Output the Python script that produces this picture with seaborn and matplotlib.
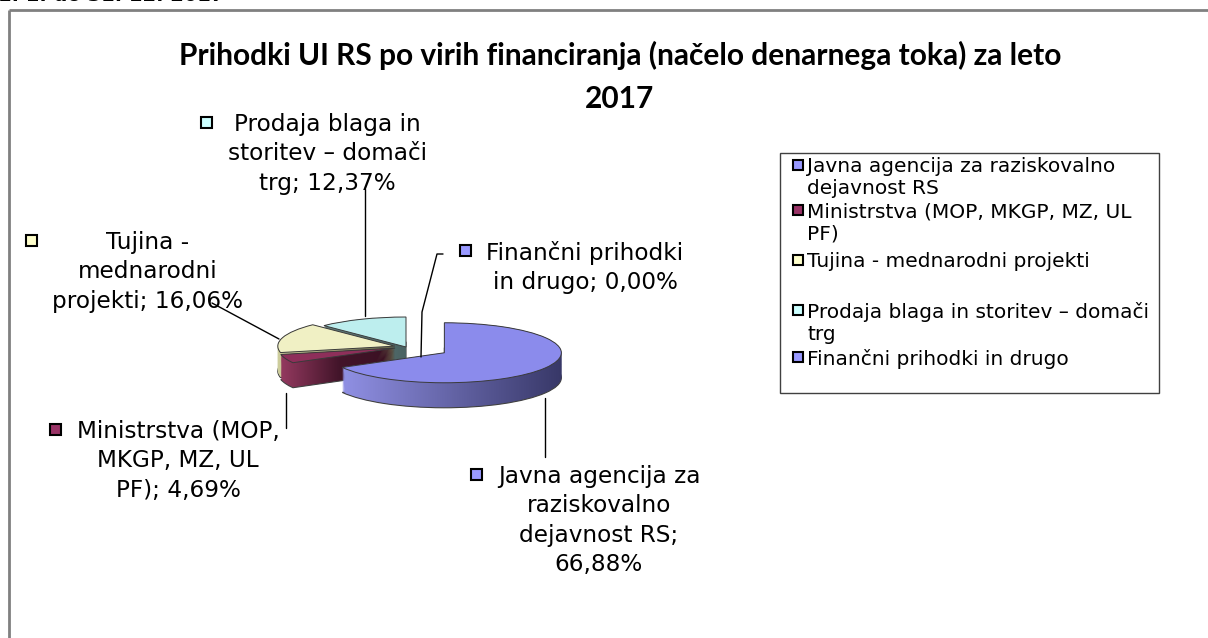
# %%
import matplotlib

matplotlib.use("Agg")
import matplotlib.pyplot as plt
import numpy as np
import seaborn as sns
from matplotlib.colors import LinearSegmentedColormap
from matplotlib.patches import Rectangle

# %% data
categories = [
    "Javna agencija za raziskovalno dejavnost RS",
    "Ministrstva (MOP, MKGP, MZ, UL PF)",
    "Tujina - mednarodni projekti",
    "Prodaja blaga in storitev – domači trg",
    "Finančni prihodki in drugo",
]
shares = [66.88, 4.69, 16.06, 12.37, 0.00]
legend_labels = [
    "Javna agencija za raziskovalno\ndejavnost RS",
    "Ministrstva (MOP, MKGP, MZ, UL\nPF)",
    "Tujina - mednarodni projekti",
    "Prodaja blaga in storitev – domači\ntrg",
    "Finančni prihodki in drugo",
]
label_templates = [
    "Javna agencija za\nraziskovalno\ndejavnost RS;\n{}",
    "Ministrstva (MOP,\nMKGP, MZ, UL\nPF); {}",
    "Tujina -\nmednarodni\nprojekti; {}",
    "Prodaja blaga in\nstoritev – domači\ntrg; {}",
    "Finančni prihodki\nin drugo; {}",
]
title = "Prihodki UI RS po virih financiranja (načelo denarnega toka) za leto\n2017"
period = "1. 1. do 31. 12. 2017"

# %% styles
key_colors = ["#9999ff", "#993366", "#ffffcc", "#ccffff", "#9999ff"]
top_colors = ["#8b8bec", "#8e2f5a", "#f0f0c4", "#bdeeee", "#8b8bec"]
side_colors = [
    ("#9090e4", "#383868"),
    ("#93395f", "#43152a", "#3a1022"),
    ("#cfcf9e", "#66664a"),
    ("#64807f", "#4a6262"),
    ("#9090e4", "#383868"),
]
explode = [0.38, 0.1, 0.1, 0.0, 0.0]
draw_rank = [3, 2, 1, 0, 0]

W, H = 1208, 638
cx, cy = 406, 347  # pie centre in pixels
rx, ry = 117, 30  # ellipse radii in pixels
depth = 25  # pixels
n_layers = 28

# label layout: (block centre x, first line centre y)
label_pos = [(599, 474), (178, 429), (148, 240), (327, 122), (585, 250)]
leaders = [
    [(545, 398), (545, 457)],
    [(286, 393), (286, 428)],
    [(212, 303), (279, 339)],
    [(365, 189), (365, 316)],
    [(443, 254), (437, 254), (422, 312), (421, 357)],
]
legend_box = (780, 153, 1159, 393)
legend_rows = [165, 210, 260, 310, 357]

sns.set_theme(style="white")
plt.rcParams["font.family"] = ["DejaVu Sans"]
plt.rcParams["text.color"] = "black"

fig = plt.figure(figsize=(W / 100, H / 100), dpi=100)
fig.patch.set_facecolor("white")

# %% 3d pie
ax = fig.add_axes([0, 0, 1, 1])
step = depth / ry / (n_layers - 1)
for k in reversed(range(n_layers)):
    wedges, _ = ax.pie(
        shares,
        explode=explode,
        startangle=90,
        counterclock=False,
        center=(0, -k * step),
        radius=1,
        wedgeprops=dict(linewidth=0),
    )
    for i, w in enumerate(wedges):
        w.set_zorder(2 + draw_rank[i] * 10 + (n_layers - k) * 0.01)
        if shares[i] == 0:
            w.set_visible(False)
            continue
        w.set_facecolor("none")
        if k == n_layers - 1:
            w.set_edgecolor("#404040")
            w.set_linewidth(0.8)
        verts = w.get_path().vertices
        x0, x1 = verts[:, 0].min(), verts[:, 0].max()
        y0, y1 = verts[:, 1].min(), verts[:, 1].max()
        cmap = LinearSegmentedColormap.from_list(f"s{i}", side_colors[i])
        ax.imshow(
            np.linspace(0, 1, 128)[None, :],
            extent=(x0, x1, y0, y1),
            aspect="auto",
            cmap=cmap,
            interpolation="bilinear",
            clip_path=w,
            zorder=w.get_zorder() - 0.001,
        )

tops, _ = ax.pie(
    shares,
    explode=explode,
    startangle=90,
    counterclock=False,
    colors=top_colors,
    radius=1,
    wedgeprops=dict(linewidth=0.7, edgecolor="#3a3a3a"),
)
for i, w in enumerate(tops):
    w.set_zorder(2 + draw_rank[i] * 10 + 5)
    if shares[i] == 0:
        w.set_visible(False)

ax.set_aspect("auto")
ax.set_xlim(-cx / rx, (W - cx) / rx)
ax.set_ylim(-(H - cy) / ry, cy / ry)
ax.axis("off")

# %% overlay in pixels
ov = fig.add_axes([0, 0, 1, 1], zorder=5)
ov.set_xlim(0, W)
ov.set_ylim(H, 0)
ov.axis("off")

ov.plot([9, 9], [H, 10], color="#808080", lw=2, solid_capstyle="butt")
ov.plot([9, W], [10, 10], color="#808080", lw=2, solid_capstyle="butt")
ov.text(-2, 5, period, fontsize=14, fontweight="bold", va="bottom", ha="left")

ov.text(
    620, 41, title, ha="center", va="top", fontsize=21.5, fontweight="bold",
    family=["Lato", "DejaVu Sans"], linespacing=1.65,
)

for pts in leaders:
    xs, ys = zip(*pts)
    ov.plot(xs, ys, color="black", lw=1)

label_texts = []
for i, tpl in enumerate(label_templates):
    pct = f"{shares[i]:.2f}".replace(".", ",") + "%"
    x, y = label_pos[i]
    t = ov.text(x, y - 9, tpl.format(pct), ha="center", va="top",
                fontsize=16.7, linespacing=1.36, multialignment="center")
    label_texts.append(t)

fig.canvas.draw()
renderer = fig.canvas.get_renderer()
for i, t in enumerate(label_texts):
    bb = t.get_window_extent(renderer)
    s = 11
    ov.add_patch(Rectangle((bb.x0 - 21 - s / 2, label_pos[i][1] - s / 2), s, s,
                           facecolor=key_colors[i], edgecolor="black", lw=1.5))

# legend
lx0, ly0, lx1, ly1 = legend_box
ov.add_patch(Rectangle((lx0, ly0), lx1 - lx0, ly1 - ly0, facecolor="white",
                       edgecolor="#404040", lw=1))
for i, lab in enumerate(legend_labels):
    y = legend_rows[i]
    s = 10
    ov.add_patch(Rectangle((798 - s / 2, y - s / 2), s, s, facecolor=key_colors[i],
                           edgecolor="black", lw=1.5, zorder=3))
    ov.text(807, y - 8, lab, ha="left", va="top", fontsize=14.5, linespacing=1.2,
            zorder=3)

fig.savefig("out.png", dpi=100)
